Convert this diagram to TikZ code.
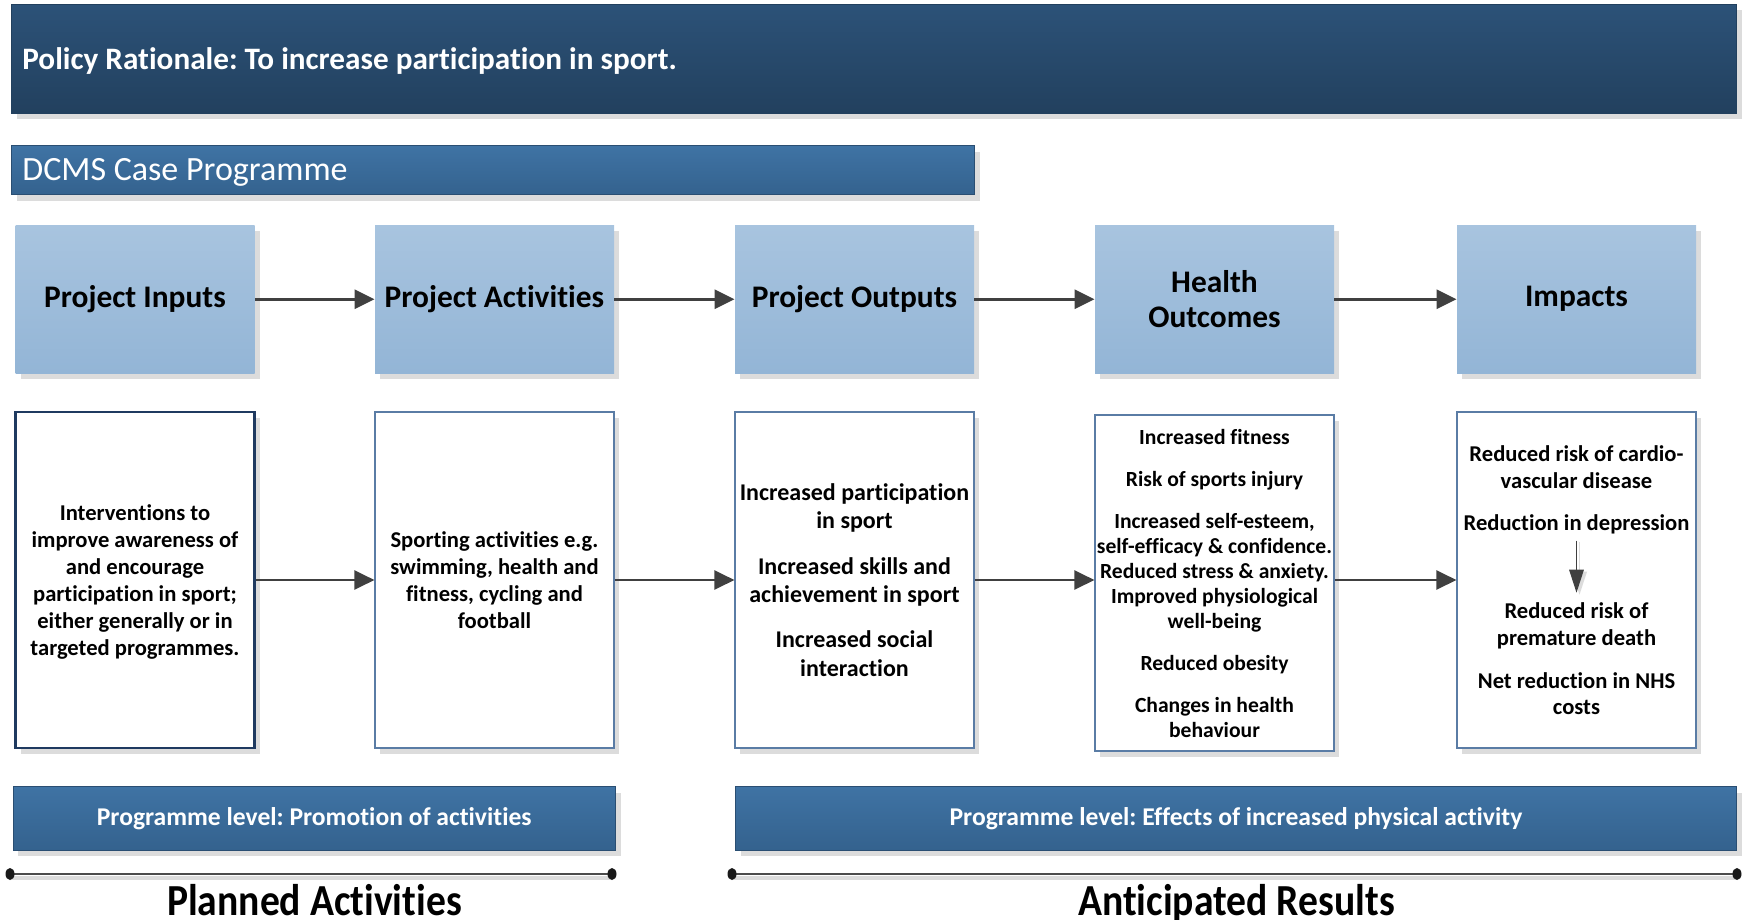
\documentclass[tikz,border=0pt]{standalone}
\usepackage{fontspec}
\setmainfont[Ligatures=NoCommon]{Carlito}
\frenchspacing
\usetikzlibrary{arrows.meta,shadows}
\definecolor{navyA}{HTML}{2C5278}
\definecolor{navyB}{HTML}{22405E}
\definecolor{midA}{HTML}{3F73A4}
\definecolor{midB}{HTML}{34628E}
\definecolor{ltA}{HTML}{A8C4DF}
\definecolor{ltB}{HTML}{93B5D6}
\definecolor{arrowgray}{HTML}{404040}
\definecolor{thinborder}{HTML}{5A7CA5}
\definecolor{darkborder}{HTML}{1F3A60}
\definecolor{shadowgray}{HTML}{DCDCDC}
\begin{document}
\begin{tikzpicture}[x=0.5pt,y=-0.5pt,
  shd/.style={drop shadow={shadow xshift=2.5pt,shadow yshift=-3pt,fill=shadowgray,opacity=1}},
  bar/.style={shd,inner sep=0pt,top color=midA,bottom color=midB,draw=midB!80!black,line width=0.5pt},
  headbox/.style={shd,inner sep=0pt,minimum width=119.5pt,minimum height=73.75pt,top color=ltA,bottom color=ltB,
    draw=none,font=\bfseries\fontsize{15.7}{18.5}\selectfont,align=center},
  bodybox/.style={shd,inner sep=0pt,minimum width=119.5pt,minimum height=168pt,fill=white,draw=thinborder,line width=0.6pt},
  bodytext/.style={font=\bfseries\fontsize{11.3}{13.5}\selectfont,align=center,inner sep=0pt},
  flow/.style={draw=arrowgray,line width=1.4pt,-{Triangle[length=10pt,width=9.5pt]}},
  tline/.style={draw=black!70,line width=1pt},
  dot/.style={fill=black!90},
  bigtext/.style={inner sep=0pt,anchor=base}
]
\useasboundingbox (0,0) rectangle (1742,920);

% top banner
\node[bar,top color=navyA,bottom color=navyB,draw=navyB,minimum width=862.5pt,minimum height=54.5pt,anchor=north west]
  (policy) at (11,4) {};
\node[anchor=west,text=white,font=\bfseries\fontsize{15.6}{18}\selectfont,inner sep=0pt] (policyt) at (22,61)
  {Policy Rationale: To increase participation in sport.};

% DCMS bar
\node[bar,minimum width=481.5pt,minimum height=24.5pt,anchor=north west] (dcms) at (11,145.5) {};
\node[anchor=west,text=white,font=\fontsize{17}{20}\selectfont,inner sep=0pt] (dcmst) at (22,172) {DCMS Case Programme};

% header boxes
\node[headbox] (h1) at (135,299.25) {\raisebox{-2pt}{Project Inputs}};
\node[headbox] (h2) at (494.5,299.25) {\raisebox{-2pt}{Project Activities}};
\node[headbox] (h3) at (854.5,299.25) {\raisebox{-2pt}{Project Outputs}};
\node[headbox] (h4) at (1214.5,299.25) {Health\\[-1pt]Outcomes};
\node[headbox] (h5) at (1576.5,299.25) {\raisebox{-2pt}{Impacts}};

\draw[flow] (h1) -- (h2);
\draw[flow] (h2) -- (h3);
\draw[flow] (h3) -- (h4);
\draw[flow] (h4) -- (h5);

% body boxes
\node[bodybox,draw=darkborder,line width=1.1pt] (b1) at (135,580) {};
\node[bodybox] (b2) at (494.5,580) {};
\node[bodybox] (b3) at (854.5,580) {};
\node[bodybox] (b4) at (1214.5,583) {};
\node[bodybox] (b5) at (1576.5,580) {};

\node[bodytext] (t1) at (135,582) {Interventions to\\improve awareness of\\and encourage\\participation in sport;\\either generally or in\\targeted programmes.};
\node[bodytext] (t2) at (494.5,580) {Sporting activities e.g.\\swimming, health and\\fitness, cycling and\\football};
\node[bodytext,font=\bfseries\fontsize{12}{14.2}\selectfont] (t3) at (854.5,580) {Increased participation\\in sport\\[8.5pt]Increased skills and\\achievement in sport\\[8.5pt]Increased social\\interaction};
\node[bodytext,font=\bfseries\fontsize{10.8}{12.5}\selectfont] (t4) at (1214.5,583) {Increased fitness\\[8.5pt]Risk of sports injury\\[8.5pt]Increased self-esteem,\\self-efficacy \& confidence.\\Reduced stress \& anxiety.\\Improved physiological\\well-being\\[8.5pt]Reduced obesity\\[8.5pt]Changes in health\\behaviour};
\node[bodytext,font=\bfseries\fontsize{11.3}{13.3}\selectfont] (t5a) at (1576.5,490) {Reduced risk of cardio-\\vascular disease\\[8pt]Reduction in depression};
\node[bodytext,font=\bfseries\fontsize{11.3}{13.3}\selectfont] (t5b) at (1576.5,659) {Reduced risk of\\premature death\\[8pt]Net reduction in NHS\\costs};
\draw[draw=shadowgray,line width=0.8pt,-{Triangle[length=11.5pt,width=7.3pt]}] ([xshift=1.5pt,yshift=-3.5pt]t5a.south) -- ([xshift=1.5pt,yshift=4pt]t5b.north);
\draw[draw=arrowgray,line width=0.6pt,-{Triangle[length=11.5pt,width=7.3pt]}] ([yshift=-3pt]t5a.south) -- ([yshift=5pt]t5b.north);

\draw[flow] (b1) -- (b2);
\draw[flow] (b2) -- (b3);
\draw[flow] (b3.east) -- (b3.east -| b4.west);
\draw[flow] (b4.east |- b5.west) -- (b5.west);

% programme level bars
\node[bar,minimum width=301.25pt,minimum height=31.7pt,text=white,font=\bfseries\fontsize{12.8}{15}\selectfont] (pl1) at (314.25,818.3)
  {\raisebox{-2pt}{Programme level: Promotion of activities}};
\node[bar,minimum width=500.5pt,minimum height=31.7pt,text=white,font=\bfseries\fontsize{12.8}{15}\selectfont] (pl2) at (1236,818.3)
  {\raisebox{-2pt}{Programme level: Effects of increased physical activity}};

% timelines
\coordinate (l1) at (10,874);
\coordinate (l2) at (612,874);
\coordinate (r1) at (732,874);
\coordinate (r2) at (1737,874);
\draw[shadowgray,line width=2pt] ([yshift=-2pt]l1) -- ([yshift=-2pt]l2);
\draw[shadowgray,line width=2pt] ([yshift=-2pt]r1) -- ([yshift=-2pt]r2);
\draw[tline] (l1) -- (l2);
\draw[tline] (r1) -- (r2);
\fill[dot] (l1) ellipse [x radius=4.5,y radius=6];
\fill[dot] (l2) ellipse [x radius=4.5,y radius=6];
\fill[dot] (r1) ellipse [x radius=4.5,y radius=6];
\fill[dot] (r2) ellipse [x radius=4.5,y radius=6];

\node[bigtext,font=\bfseries\fontsize{19.8}{22}\selectfont] (pa) at (314.5,915) {\scalebox{1}[1.12]{Planned Activities}};
\node[bigtext,font=\bfseries\fontsize{19.8}{22}\selectfont] (ar) at (1236.5,915) {\scalebox{1}[1.12]{Anticipated Results}};
\end{tikzpicture}
\end{document}
